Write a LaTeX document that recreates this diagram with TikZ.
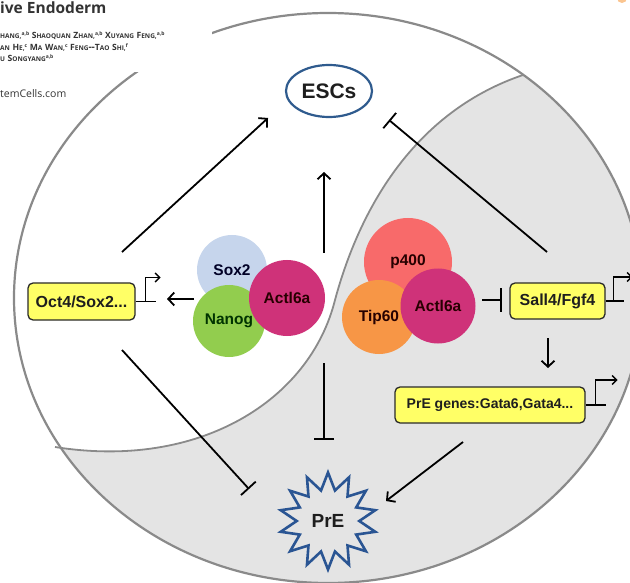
\documentclass[tikz,border=0pt]{standalone}
\usepackage{fontspec}
\setmainfont{Liberation Sans}
\newfontfamily\hdr{Open Sans}
\usetikzlibrary{arrows.meta,shapes.geometric}
\definecolor{rimgray}{HTML}{8A8A8A}
\definecolor{bggray}{HTML}{E4E4E4}
\definecolor{yel}{HTML}{FFFF66}
\definecolor{boxdk}{HTML}{2A2A2A}
\definecolor{soxc}{HTML}{C6D5EC}
\definecolor{nanc}{HTML}{92CD4E}
\definecolor{actc}{HTML}{CF3279}
\definecolor{p4c}{HTML}{F86A6A}
\definecolor{tipc}{HTML}{F79646}
\definecolor{escblue}{HTML}{2F5B8E}
\definecolor{starblue}{HTML}{2A5593}
\definecolor{txtdk}{HTML}{1E1E1E}
\definecolor{blobc}{HTML}{FBC590}
\newcommand\SCx[2]{{\fontsize{8.6}{9}\selectfont #1}{\fontsize{6.5}{7}\selectfont #2}}
\newcommand\Sup[1]{\raisebox{3pt}{\fontsize{5}{5}\selectfont #1}}
\tikzset{
  gbox/.style={draw=boxdk, fill=yel, rounded corners=5pt, line width=1.3pt,
    inner sep=0pt, text=txtdk, font=\bfseries\fontsize{16}{16}\selectfont},
  disc/.style={circle, inner sep=0pt, minimum size=#1},
  ctext/.style={font=\bfseries\fontsize{15.5}{15.5}\selectfont},
  act/.style={line width=1.8pt, -{Straight Barb[length=6pt,width=13pt,line width=1.8pt]}},
  inh/.style={line width=1.8pt, -{Bar[width=20pt,line width=1.8pt]}},
  prom/.style={line width=1.5pt},
  promarr/.style={line width=1.5pt, -{Straight Barb[length=4.5pt,width=9pt,line width=1.5pt]}}
}
\begin{document}
\begin{tikzpicture}[x=1pt,y=-1pt]
\useasboundingbox (0,0) rectangle (630,583);
\begin{scope}
\clip (0,0) rectangle (630,583);
% gray half of the cell
\begin{scope}
\clip (328,298) ellipse [x radius=314pt, y radius=285pt];
\fill[bggray] (523,75) .. controls (420,110) and (362,200) .. (335,300)
  .. controls (310,400) and (200,470) .. (57,447)
  -- (-20,470) -- (-20,700) -- (700,700) -- (700,-40) -- (570,-40) -- cycle;
\end{scope}
\draw[rimgray, line width=1.8pt] (523,75) .. controls (420,110) and (362,200) .. (335,300)
  .. controls (310,400) and (200,470) .. (55,447);
\draw[rimgray, line width=2.2pt] (328,298) ellipse [x radius=314pt, y radius=285pt];
% header text block
\fill[white] (0,0) rectangle (212,72);
\node[anchor=base west, inner sep=0pt, text=black!80, font=\hdr\bfseries\fontsize{15.5}{16}\selectfont] (ttl) at (0,14) {ive Endoderm};
\node[anchor=base west, inner sep=0pt, text=black!80, font=\hdr\bfseries] (au1) at (0,39)
  {\SCx{}{HANG,}\Sup{a,b} \SCx{S}{HAOQUAN} \SCx{Z}{HAN,}\Sup{a,b} \SCx{X}{UYANG} \SCx{F}{ENG,}\Sup{a,b}};
\node[anchor=base west, inner sep=0pt, text=black!80, font=\hdr\bfseries] (au2) at (0,51)
  {\SCx{}{AN} \SCx{H}{E,}\Sup{c} \SCx{M}{A} \SCx{W}{AN,}\Sup{c} \SCx{F}{ENG}--\SCx{T}{AO} \SCx{S}{HI,}\Sup{f}};
\node[anchor=base west, inner sep=0pt, text=black!80, font=\hdr\bfseries] (au3) at (0,62)
  {\SCx{}{U} \SCx{S}{ONGYANG}\Sup{a,b}};
\node[anchor=base west, inner sep=0pt, text=black!80, font=\hdr\fontsize{10.5}{11}\selectfont] (web) at (0,98) {temCells.com};
\fill[blobc] (622,-2) circle [radius=5pt];
% left complex
\node[disc=70pt, fill=soxc, text=black!85!blue, ctext] (sox) at (232,270) {Sox2};
\node[disc=72pt, fill=nanc, text=black!80!green, ctext] (nan) at (229,321) {Nanog};
\node[disc=76pt, fill=actc, text=black!85!red, ctext] (actL) at (287,298) {Actl6a};
% right complex
\node[disc=88pt, fill=p4c, text=black!85!red, ctext] (p400) at (408,262) {p400};
\node[disc=74pt, fill=tipc, text=black!85!red, ctext] (tip) at (379,317) {Tip60};
\node[disc=75pt, fill=actc, text=black!85!red, ctext] (actR) at (438,306) {Actl6a};
% main nodes
\node[ellipse, draw=escblue, line width=2.2pt, minimum width=86pt, minimum height=52pt,
  inner sep=0pt, text=txtdk, font=\bfseries\fontsize{21}{21}\selectfont] (esc) at (329,91) {ESCs};
\node[star, star points=14, star point ratio=1.55, draw=starblue, line width=2.6pt,
  minimum size=97pt, inner sep=0pt, text=txtdk, font=\bfseries\fontsize{19}{19}\selectfont] (pre) at (328,521) {PrE};
\node[gbox, minimum width=107pt, minimum height=37pt] (oct) at (81.5,301.5) {Oct4/Sox2...};
\node[gbox, minimum width=95pt, minimum height=36pt] (sall) at (557.5,301) {Sall4/Fgf4};
\node[gbox, minimum width=190pt, minimum height=36pt, font=\bfseries\fontsize{14}{14}\selectfont] (gata) at (490,405) {PrE genes:Gata6,Gata4...};
% promoters
\draw[prom] (oct.east) -- ++(20,0);
\draw[promarr] ([xshift=10pt]oct.east) -- ++(0,-24) -- ++(15,0);
\draw[prom] (sall.east) -- ++(18,0);
\draw[promarr] ([xshift=8pt]sall.east) -- ++(0,-24) -- ++(19,0);
\draw[prom] (gata.east) -- ++(20,0);
\draw[promarr] ([xshift=10pt]gata.east) -- ++(0,-25) -- ++(22,0);
% connectors
\coordinate (o1) at (122,252); \coordinate (e1) at (268,118);
\draw[act] (o1) -- (e1);
\coordinate (s1) at (547,252); \coordinate (e2) at (389,120);
\draw[inh] (s1) -- (e2);
\coordinate (o2) at (122,350); \coordinate (p1) at (249,489);
\draw[inh] (o2) -- (p1);
\coordinate (c1) at (324,253); \coordinate (e3) at (324,172);
\draw[act] (c1) -- (e3);
\coordinate (c2) at (324,363); \coordinate (p2) at (324,440);
\draw[inh] (c2) -- (p2);
\coordinate (c3) at (194,299); \coordinate (o3) at (167,299);
\draw[act] (c3) -- (o3);
\coordinate (c4) at (482,300); \coordinate (s2) at (502,300);
\draw[line width=1.8pt, -{Bar[width=24pt,line width=1.8pt]}] (c4) -- (s2);
\coordinate (s3) at (548,338); \coordinate (g1) at (548,368);
\draw[act] (s3) -- (g1);
\coordinate (g2) at (463,442); \coordinate (p3) at (386,501);
\draw[act] (g2) -- (p3);
\end{scope}
\end{tikzpicture}
\end{document}
